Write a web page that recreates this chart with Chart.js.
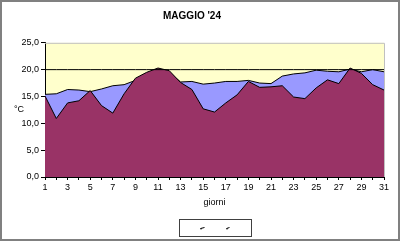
<!DOCTYPE html>
<html><head><meta charset="utf-8">
<style>html,body{margin:0;padding:0;background:#fff}#w{width:400px;height:241px;position:relative}</style>
<script src="https://cdn.jsdelivr.net/npm/chart.js@4"></script>
</head><body><div id="w"><canvas id="c" width="400" height="241"></canvas></div>
<script>
const days = [1,2,3,4,5,6,7,8,9,10,11,12,13,14,15,16,17,18,19,20,21,22,23,24,25,26,27,28,29,30,31];
const seriesBlue = [15.4,15.5,16.3,16.2,15.9,16.4,17.0,17.2,18.0,19.0,20.0,19.5,17.7,17.8,17.3,17.5,17.8,17.8,18.0,17.5,17.4,18.8,19.2,19.4,19.9,19.7,19.6,20.1,19.6,20.0,19.6];
const seriesRed = [15.1,10.9,13.8,14.2,16.1,13.3,11.9,15.5,18.4,19.5,20.3,19.8,17.6,16.3,12.7,12.1,13.8,15.3,17.8,16.7,16.8,17.0,14.9,14.6,16.6,18.1,17.4,20.3,19.3,17.2,16.2];
const threshold = [20,20,20,20,20,20,20,20,20,20,20,20,20,20,20,20,20,20,20,20,20,20,20,20,20,20,20,20,20,20,20];
const yTicks = [0,5,10,15,20,25];
const titleText = "MAGGIO '24";
const xTitle = "giorni";
const yTitle = "°C";

const toPts = arr => arr.map((v,i)=>({x:days[i], y:v}));

const deco = {
  id:'deco',
  beforeDraw(ch){
    const {ctx, chartArea:a} = ch;
    ctx.save();
    ctx.fillStyle = '#FFFFCC';
    ctx.fillRect(a.left, a.top, a.right-a.left, a.bottom-a.top);
    ctx.restore();
  },
  afterDraw(ch){
    const {ctx, chartArea:a} = ch;
    ctx.save();
    // plot border top/right
    ctx.strokeStyle = '#c0c0c0'; ctx.lineWidth = 1;
    ctx.beginPath(); ctx.moveTo(a.left, a.top+0.5); ctx.lineTo(a.right+0.5, a.top+0.5); ctx.lineTo(a.right+0.5, a.bottom); ctx.stroke();
    // y title
    ctx.fillStyle = '#000'; ctx.font = '9px Arial, "Liberation Sans", sans-serif';
    ctx.textAlign = 'left'; ctx.textBaseline = 'middle';
    ctx.fillText(yTitle, 14, 110);
    // legend box
    const cx = (a.left + a.right)/2;
    ctx.strokeStyle = '#404040'; ctx.lineWidth = 1;
    ctx.strokeRect(Math.round(cx-36)+0.5, 219.5, 72, 17);
    ctx.strokeStyle = '#000';
    ctx.beginPath();
    ctx.moveTo(cx-14, 228.5); ctx.lineTo(cx-10, 227.5); ctx.moveTo(cx-13.5,228); ctx.lineTo(cx-13.5,229.5);
    ctx.moveTo(cx+12, 228.5); ctx.lineTo(cx+15, 227.5); ctx.moveTo(cx+12.5,228); ctx.lineTo(cx+12.5,229.5);
    ctx.stroke();
    // outer border
    ctx.strokeStyle = '#808080'; ctx.lineWidth = 2;
    ctx.strokeRect(1, 1, 398, 239);
    ctx.restore();
  }
};

new Chart(document.getElementById('c'), {
  type:'line',
  data:{
    datasets:[
      {label:'soglia', data:toPts(threshold), borderColor:'#000', borderWidth:1, fill:false, pointRadius:0, order:0},
      {label:'min', data:toPts(seriesRed), borderColor:'#000', borderWidth:1, backgroundColor:'#993366', fill:'origin', pointRadius:0, tension:0, order:1},
      {label:'max', data:toPts(seriesBlue), borderColor:'#000', borderWidth:1, backgroundColor:'#9999FF', fill:'origin', pointRadius:0, tension:0, order:2}
    ]
  },
  options:{
    responsive:false, animation:false,
    layout:{padding:{left:0,right:16,top:0,bottom:0}},
    plugins:{
      legend:{display:false}, tooltip:{enabled:false},
      title:{display:true, text:titleText, color:'#000', font:{family:'Arial, "Liberation Sans", sans-serif', size:10, weight:'bold'}, padding:{top:10,bottom:20.8}}
    },
    scales:{
      x:{type:'linear', min:1, max:31,
        afterBuildTicks(s){ s.ticks = days.map(d=>({value:d})); },
        afterFit(s){ s.height = 64; },
        grid:{drawOnChartArea:false, tickLength:3, color:'#000'},
        border:{color:'#000', width:1},
        ticks:{color:'#000', maxRotation:0, autoSkip:false, padding:2, font:{family:'Arial, "Liberation Sans", sans-serif', size:9},
          callback:(v)=> (v%2===1 ? String(v) : '')},
        title:{display:true, text:xTitle, color:'#000', font:{family:'Arial, "Liberation Sans", sans-serif', size:9}, padding:{top:0,bottom:33}}
      },
      y:{min:0, max:25,
        afterBuildTicks(s){ s.ticks = yTicks.map(v=>({value:v})); },
        afterFit(s){ s.width = 45; },
        grid:{drawOnChartArea:false, tickLength:4, color:'#000'},
        border:{color:'#000', width:1},
        ticks:{color:'#000', padding:2, font:{family:'Arial, "Liberation Sans", sans-serif', size:9},
          callback:(v)=> v.toFixed(1).replace('.',',')}
      }
    }
  },
  plugins:[deco]
});
</script></body></html>
